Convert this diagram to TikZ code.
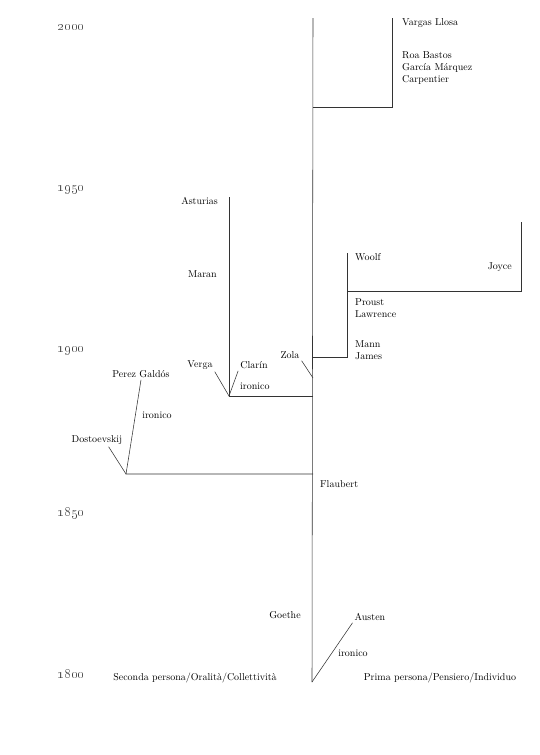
\documentclass[tikz,border=0pt]{standalone}
\usetikzlibrary{positioning}

\tikzset{
  stem/.style={draw=black!80, line width=0.55pt},
  auth/.style={inner sep=2pt},
  year/.style={text=black!75, inner sep=1pt, font=\Large},
}

\begin{document}
\begin{tikzpicture}[x=1pt,y=-1pt]
    \useasboundingbox (0,0) rectangle (540,755);

    % time axis
    \foreach \yr/\ypos in {2000/27,1950/190,1900/351,1850/513,1800/674}
        \node[year] (y\yr) at (71,\ypos) {\oldstylenums{\yr}};

    % authors
    \node[auth, anchor=west] (Vargas) at (400,23) {Vargas Llosa};
    \node[auth, anchor=west, align=left] (Roa) at (400,68) {Roa Bastos\\García Márquez\\Carpentier};
    \node[auth, anchor=east] (Asturias) at (220,201) {Asturias};
    \node[auth, anchor=east] (Maran) at (219,274) {Maran};
    \node[auth, anchor=west] (Woolf) at (353,257) {Woolf};
    \node[auth, anchor=east] (Joyce) at (514,267) {Joyce};
    \node[auth, anchor=west, align=left] (Proust) at (353,308) {Proust\\Lawrence};
    \node[auth, anchor=west, align=left] (Mann) at (353,350) {Mann\\James};
    \node[auth] (Zola) at (290,355) {Zola};
    \node[auth] (Verga) at (200,365) {Verga};
    \node[auth] (Clarin) at (254,365) {Clarín};
    \node[auth, anchor=west] (ironClarin) at (238,386) {ironico};
    \node[auth] (Galdos) at (141,374) {Perez Galdós};
    \node[auth] (ironGaldos) at (157,415) {ironico};
    \node[auth] (Dostoevskij) at (97,440) {Dostoevskij};
    \node[auth, anchor=west] (Flaubert) at (318,484) {Flaubert};
    \node[auth] (Goethe) at (285,615) {Goethe};
    \node[auth] (Austen) at (370,617) {Austen};
    \node[auth] (ironAusten) at (353,653) {ironico};

    % poles
    \node[auth] (second) at (195,678) {Seconda persona/Oralità/Collettività};
    \node[auth] (first) at (440,678) {Prima persona/Pensiero/Individuo};

    % junctions
    \coordinate (trunktop) at (313,18);
    \coordinate (root) at (312,682);
    \coordinate (jLat) at (313,107);
    \coordinate (latTop) at (392,18);
    \coordinate (jMod) at (313,357);
    \coordinate (modTop) at (347,253);
    \coordinate (jJoyce) at (347,291);
    \coordinate (joyceTop) at (521,222);
    \coordinate (jZola) at (313,378);
    \coordinate (jVerga) at (313,396);
    \coordinate (vergaV) at (229,396);
    \coordinate (asturTop) at (229,197);
    \coordinate (jDost) at (313,474);
    \coordinate (dostV) at (126,474);

    % main line
    \draw[stem] (trunktop) -- (root);

    % branches
    \draw[stem] (jLat) -| (latTop);
    \draw[stem] (jMod) -| (modTop);
    \draw[stem] (jJoyce) -| (joyceTop);
    \draw[stem] (Zola.south east) -- (jZola);
    \draw[stem] (jVerga) -- (vergaV) -- (asturTop);
    \draw[stem] (Verga.south east) -- (vergaV) -- (Clarin.south west);
    \draw[stem] (jDost) -- (dostV) -- (Galdos.south);
    \draw[stem] (Dostoevskij.-30) -- (dostV);
    \draw[stem] (root) -- (Austen.south west);
\end{tikzpicture}
\end{document}
